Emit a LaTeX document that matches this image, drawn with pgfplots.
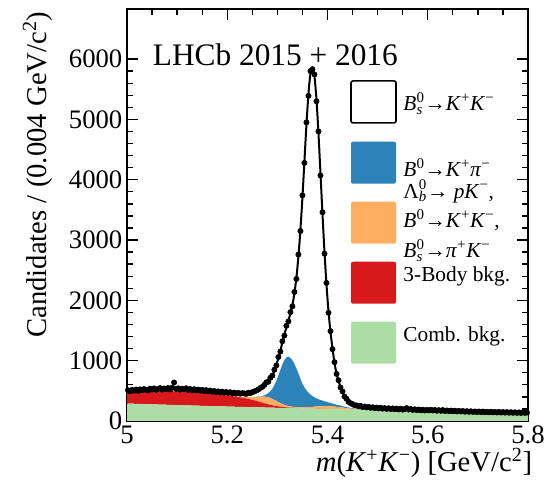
\documentclass[border=0pt]{standalone}
\usepackage{fontspec}
\setmainfont{Liberation Serif}
\usepackage{pgfplots}
\usepackage{pgfplotstable}
\pgfplotsset{compat=1.18}

\definecolor{sigblue}{HTML}{2B83BA}
\definecolor{partorange}{HTML}{FDAE61}
\definecolor{threered}{HTML}{D7191C}
\definecolor{combgreen}{HTML}{ABDDA4}

% superscript stacked over subscript
\newcommand\supsub[2]{\setbox0=\hbox{\textsuperscript{#1}}\setbox2=\hbox{\textsubscript{#2}}%
  \ifdim\wd0>\wd2 \rlap{\box2}\box0\else\rlap{\box0}\box2\fi}
\newcommand\Bsz{\textit{B}\supsub{0}{\textit{s}}}
\newcommand\Bz{\textit{B}\textsuperscript{0}}
\newcommand\Lbz{Λ\supsub{0}{\textit{b}}}
\newcommand\Kp{\textit{K}\textsuperscript{+}}
\newcommand\Km{\textit{K}\textsuperscript{−}}

% fit components: comb., 3-body, part. reco/misID, B0->Kpi, Bs->KK
\pgfplotstableread{
x     G    R    O    B    S
5.00  290  180  0    0    27
5.02  284  192  0    0    29
5.04  279  210  0    0    30
5.06  274  220  0    0    31
5.08  269  226  0    0    33
5.10  264  228  0    0    34
5.12  259  226  0    0    36
5.14  254  220  0    0    38
5.16  249  211  0    0    41
5.18  244  196  0    0    44
5.20  240  183  0    0    49
5.22  235  165  4    0    55
5.24  231  140  25   0    71
5.25  229  122  45   0    87
5.26  227  102  72   2    114
5.27  224  80   100  12   153
5.274 224  70   109  23   174
5.278 223  62   116  41   185
5.282 222  54   118  69   196
5.286 221  47   115  111  207
5.290 220  40   107  169  223
5.294 220  34   96   244  240
5.298 219  29   83   336  262
5.302 218  25   70   441  289
5.306 217  21   58   551  322
5.310 217  17   47   655  365
5.314 216  14   38   741  425
5.318 215  11   31   798  501
5.322 214  8    26   818  600
5.326 213  6    22   806  736
5.330 213  4    19   770  916
5.334 212  3    17   714  1172
5.338 211  2    16   642  1510
5.342 210  1    16   561  1940
5.346 209  0    17   475  2474
5.350 209  0    18   390  3090
5.354 208  0    20   330  3755
5.358 207  0    22   280  4404
5.362 206  0    24   240  4954
5.366 206  0    27   205  5319
5.370 205  0    30   178  5450
5.374 204  0    33   155  5319
5.378 203  0    36   136  4954
5.382 202  0    39   120  4404
5.386 202  0    41   106  3755
5.390 201  0    43   94   3090
5.394 200  0    45   83   2474
5.398 199  0    46   73   1940
5.402 198  0    46   64   1510
5.406 198  0    45   56   1172
5.410 197  0    44   49   916
5.414 196  0    42   42   680
5.418 195  0    40   36   520
5.422 195  0    37   31   400
5.426 194  0    34   27   310
5.430 193  0    30   23   235
5.434 192  0    27   19   175
5.438 191  0    23   16   130
5.442 191  0    20   13   100
5.45  189  0    13   9    65
5.46  187  0    7    5    50
5.47  186  0    4    3    44
5.48  184  0    2    1    40
5.50  180  0    0    0    35
5.54  174  0    0    0    30
5.58  167  0    0    0    25
5.62  161  0    0    0    19
5.66  155  0    0    0    15
5.70  149  0    0    0    12
5.74  144  0    0    0    10
5.78  138  0    0    0    8
5.80  136  0    0    0    8
}\model

\pgfplotstableread{
x y
5.002 510
5.006 492
5.010 515
5.014 503
5.018 521
5.022 498
5.026 524
5.030 512
5.034 530
5.038 515
5.042 508
5.046 536
5.050 522
5.054 540
5.058 518
5.062 533
5.066 545
5.070 521
5.074 538
5.078 529
5.082 547
5.086 524
5.090 551
5.094 638
5.098 532
5.102 541
5.106 519
5.110 536
5.114 528
5.118 543
5.122 515
5.126 530
5.130 512
5.134 526
5.138 509
5.142 520
5.146 503
5.150 517
5.154 498
5.158 512
5.162 491
5.166 505
5.170 486
5.174 497
5.178 479
5.182 490
5.186 474
5.190 486
5.194 469
5.198 480
5.202 466
5.206 477
5.210 458
5.214 470
5.218 455
5.222 466
5.226 452
5.230 463
5.234 457
5.238 449
5.242 468
5.246 462
5.250 478
5.254 490
5.258 505
5.262 522
5.266 548
5.270 565
5.274 598
5.278 640
5.282 652
5.286 716
5.290 752
5.294 850
5.298 921
5.302 1060
5.306 1150
5.310 1322
5.314 1415
5.318 1578
5.322 1650
5.326 1805
5.330 1900
5.334 2140
5.338 2355
5.342 2760
5.346 3150
5.350 3740
5.354 4280
5.358 4950
5.362 5390
5.366 5800
5.370 5830
5.374 5745
5.378 5300
5.382 4800
5.386 4070
5.390 3460
5.394 2775
5.398 2290
5.402 1795
5.406 1490
5.410 1190
5.414 975
5.418 780
5.422 675
5.426 555
5.430 490
5.434 405
5.438 368
5.442 318
5.446 296
5.450 280
5.454 262
5.458 258
5.462 244
5.466 250
5.470 232
5.474 241
5.478 225
5.482 233
5.486 219
5.490 228
5.494 214
5.498 222
5.502 209
5.506 219
5.510 205
5.514 214
5.518 201
5.522 212
5.526 198
5.530 208
5.534 196
5.538 205
5.542 192
5.546 203
5.550 189
5.554 199
5.558 214
5.562 190
5.566 198
5.570 184
5.574 194
5.578 181
5.582 190
5.586 177
5.590 187
5.594 174
5.598 184
5.602 176
5.606 186
5.610 174
5.614 183
5.618 170
5.622 180
5.626 168
5.630 181
5.634 165
5.638 175
5.642 163
5.646 172
5.650 161
5.654 171
5.658 158
5.662 168
5.666 157
5.670 165
5.674 153
5.678 163
5.682 152
5.686 161
5.690 150
5.694 158
5.698 148
5.702 158
5.706 147
5.710 156
5.714 146
5.718 154
5.722 144
5.726 153
5.730 143
5.734 151
5.738 141
5.742 150
5.746 140
5.750 148
5.754 139
5.758 147
5.762 137
5.766 146
5.770 136
5.774 144
5.778 135
5.782 143
5.786 134
5.790 142
5.794 136
5.798 140
}\data

\begin{document}
\begin{tikzpicture}
\begin{axis}[
    scale only axis,
    width=300.75pt, height=309pt,
    xmin=5, xmax=5.8,
    ymin=0, ymax=6830,
    stack plots=y,
    axis line style={line width=1pt},
    tick style={line width=1pt, black},
    tick align=inside,
    tick pos=both,
    major tick length=8.5pt,
    minor tick length=4.5pt,
    xtick={5,5.2,5.4,5.6,5.8},
    minor x tick num=3,
    ytick={0,1000,2000,3000,4000,5000,6000},
    minor y tick num=4,
    scaled y ticks=false,
    /pgf/number format/1000 sep={},
    /pgf/number format/assume math mode=true,
    ticklabel style={font=\fontsize{20}{24}\selectfont},
    label style={font=\fontsize{21.5}{26}\selectfont},
    xlabel={\textit{m}(\Kp\Km) [GeV/c\textsuperscript{2}]},
    xlabel style={at={(axis description cs:1.022,-0.102)}, anchor=east},
    ylabel={Candidates / (0.004 GeV/c\textsuperscript{2})},
    ylabel style={at={(axis description cs:-0.223,1.005)}, anchor=east},
    reverse legend,
    legend style={
        at={(axis description cs:0.556,0.828)}, anchor=north west,
        draw=none, fill=none, inner sep=0pt,
        font=\fontsize{16}{19}\selectfont,
        row sep=13.5pt,
        cells={anchor=west},
        /tikz/every odd column/.append style={column sep=3pt},
    },
]
\coordinate (sw) at (rel axis cs:0,0);
\coordinate (ne) at (rel axis cs:1,1);

\addplot[fill=combgreen, draw=none,
    legend image code/.code={\fill[combgreen, rounded corners=1.5pt] (0pt,-15.75pt) rectangle (33.75pt,15.75pt);}]
    table[x=x, y=G] {\model} \closedcycle;
\addlegendentry{\smash{\raisebox{0.3pt}{Comb. bkg.}}}

\addplot[fill=threered, draw=none,
    legend image code/.code={\fill[threered, rounded corners=1.5pt] (0pt,-15.75pt) rectangle (33.75pt,15.75pt);}]
    table[x=x, y=R] {\model} \closedcycle;
\addlegendentry{\smash{\raisebox{0.5pt}{3-Body bkg.}}}

\addplot[fill=partorange, draw=none,
    legend image code/.code={\fill[partorange, rounded corners=1.5pt] (0pt,-15.75pt) rectangle (33.75pt,15.75pt);}]
    table[x=x, y=O] {\model} \closedcycle;
\addlegendentry{\smash{\raisebox{-5pt}{\begin{tabular}[c]{@{}l@{}}\Lbz→ \textit{p}\Km,\\[3pt]\Bz→\Kp\Km,\\[3pt]\Bsz→\textit{π}\textsuperscript{+}\Km\end{tabular}}}}

\addplot[fill=sigblue, draw=none,
    legend image code/.code={\fill[sigblue, rounded corners=1.5pt] (0pt,-15.75pt) rectangle (33.75pt,15.75pt);}]
    table[x=x, y=B] {\model} \closedcycle;
\addlegendentry{\smash{\raisebox{-11pt}{\Bz→\Kp\textit{π}\textsuperscript{−}}}}

\addplot[black, line width=1.5pt, smooth,
    legend image code/.code={\draw[black, line width=1.2pt, fill=white, rounded corners=1.5pt] (0pt,-15.75pt) rectangle (33.75pt,15.75pt);}]
    table[x=x, y=S] {\model};
\addlegendentry{\smash{\raisebox{-7.5pt}{\Bsz→\Kp\Km}}}

\addplot[stack plots=false, only marks, mark=*, mark size=2pt, black, forget plot]
    table[x=x, y=y] {\data};

\node[anchor=base west, font=\fontsize{23.5}{28}\selectfont]
    at (axis description cs:0.053,0.862) {LHCb 2015 + 2016};
\end{axis}
\pgfresetboundingbox
\path ([shift={(-95.25pt,-49.5pt)}]sw) rectangle ([shift={(12pt,6.75pt)}]ne);
\end{tikzpicture}
\end{document}
